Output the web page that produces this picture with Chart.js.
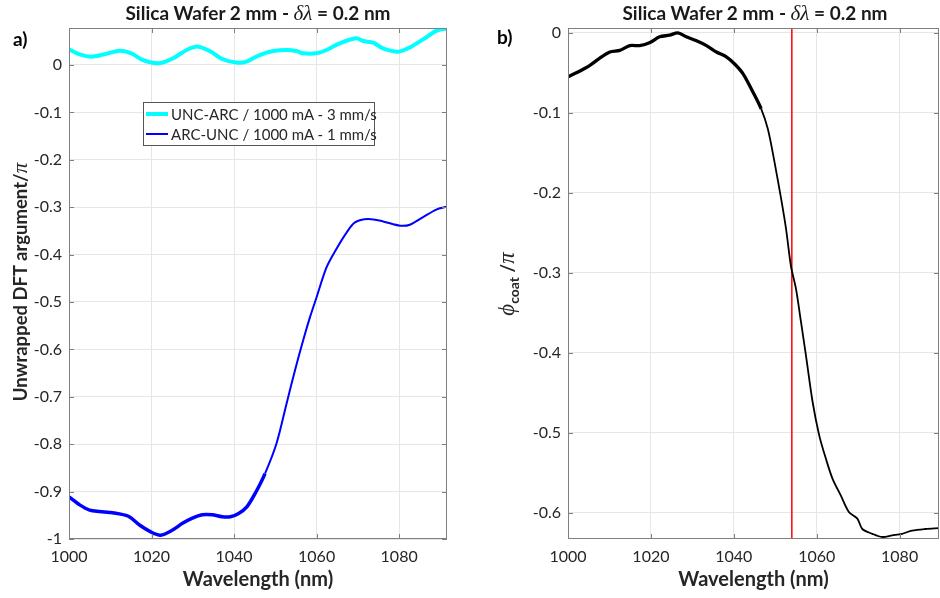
<!DOCTYPE html>
<html>
<head>
<meta charset="utf-8">
<script src="https://cdn.jsdelivr.net/npm/chart.js@4.4.1/dist/chart.umd.min.js"></script>
<style>
    body { margin: 0; background: #fff; }
    #wrap { position: relative; width: 940px; height: 598px; overflow: hidden; font-family: Lato, sans-serif; color: #262626; }
    canvas { position: absolute; top: 0; }
    .title { position: absolute; top: 1px; width: 400px; text-align: center; font-weight: bold; font-size: 19px; line-height: 24px; color: #1a1a1a; }
    .tex { font-family: "Liberation Serif", serif; font-style: italic; font-weight: normal; font-size: 21px; }
    .panel { position: absolute; font-weight: bold; font-size: 19px; color: #000; }
    .ylab { position: absolute; width: 320px; height: 26px; line-height: 26px; text-align: center; transform: rotate(-90deg); font-weight: bold; font-size: 18.5px; color: #262626; white-space: nowrap; }
    #legend { position: absolute; left: 143px; top: 102px; width: 230px; height: 42px; border: 1px solid #555; background: #fff; font-size: 15px; }
    #legend .row { position: absolute; left: 0; height: 20px; line-height: 20px; white-space: nowrap; }
    #legend .swatch { position: absolute; left: 2px; top: 9px; width: 22px; }
    #legend .txt { position: absolute; left: 27px; top: 0; }
</style>
</head>
<body>
<div id="wrap">
    <canvas id="chartA" width="470" height="598" style="left:0"></canvas>
    <canvas id="chartB" width="470" height="598" style="left:470px"></canvas>
    <div class="title" style="left:58px">Silica Wafer 2 mm - <span class="tex">δλ</span> = 0.2 nm</div>
    <div class="title" style="left:555px">Silica Wafer 2 mm - <span class="tex">δλ</span> = 0.2 nm</div>
    <div class="panel" style="left:13px; top:27px">a)</div>
    <div class="panel" style="left:497px; top:25px">b)</div>
    <div class="ylab" style="left:-140px; top:269px">Unwrapped DFT argument/<span class="tex">π</span></div>
    <div class="ylab" style="left:347px; top:271px"><span class="tex" style="font-size:23px">ϕ</span><sub style="font-size:14px; font-weight:bold">coat</sub> /<span class="tex" style="font-size:23px">π</span></div>
    <div id="legend"></div>
</div>
<script>
// panel a) UNC-ARC (cyan)
const waveUnc = [1000, 1002.6, 1005.4, 1008.2, 1012.3, 1015.1, 1017.9, 1021.8, 1025.2, 1028.5, 1031.3, 1034.1,
    1037.3, 1040.6, 1043, 1046.2, 1049.5, 1052.7, 1055.1, 1056.7, 1059.9, 1062.4, 1065.6, 1069.6, 1071.3,
    1073.7, 1076.1, 1079.8, 1082.6, 1085.8, 1089, 1091.5];
const argUnc = [0.033, 0.0225, 0.0176, 0.0218, 0.030, 0.0246, 0.0105, 0.0035, 0.014, 0.0316, 0.0387, 0.0295,
    0.012, 0.005, 0.007, 0.021, 0.0295, 0.0316, 0.0295, 0.0246, 0.0246, 0.0316, 0.0457, 0.0563, 0.0506,
    0.047, 0.035, 0.028, 0.037, 0.054, 0.072, 0.077];

// panel a) ARC-UNC (blue)
const waveArc = [1000, 1002.6, 1005, 1007.4, 1009.8, 1012.2, 1014.6, 1017, 1019.8, 1022.2, 1025.1, 1027.5,
    1029.9, 1032.3, 1034.7, 1037.1, 1039.1, 1041.1, 1043.1, 1045.1, 1047.5, 1050.3, 1052.7, 1054.8, 1056.8,
    1058.4, 1060, 1062.4, 1064.8, 1067.3, 1069.3, 1072.5, 1076.1, 1080.2, 1082.6, 1085.8, 1089, 1091.5];
const argArc = [-0.911, -0.928, -0.939, -0.942, -0.944, -0.947, -0.953, -0.97, -0.985, -0.992, -0.981, -0.967,
    -0.956, -0.949, -0.949, -0.953, -0.953, -0.946, -0.932, -0.904, -0.862, -0.798, -0.715, -0.643, -0.579,
    -0.532, -0.49, -0.427, -0.388, -0.353, -0.332, -0.325, -0.33, -0.339, -0.337, -0.321, -0.305, -0.299];

// panel b) coating phase (black)
const waveCoat = [1000, 1002.4, 1005.2, 1007.6, 1010.1, 1012.5, 1014.9, 1017.3, 1019.8, 1022.1, 1024.5, 1026.5,
    1028.5, 1031, 1033.4, 1035.8, 1038.2, 1040.2, 1042.2, 1044.2, 1046.6, 1048.2, 1049.8, 1051.4, 1052.6,
    1053.8, 1055, 1056.2, 1057.4, 1059, 1060.6, 1062.2, 1063.8, 1065.8, 1067.8, 1069.8, 1071, 1073.4,
    1075.8, 1078.2, 1080.6, 1083, 1086.2, 1089.5];
const phiCoat = [-0.055, -0.049, -0.041, -0.032, -0.024, -0.022, -0.016, -0.016, -0.012, -0.005, -0.003, 0.0,
    -0.005, -0.01, -0.016, -0.024, -0.03, -0.039, -0.051, -0.07, -0.095, -0.12, -0.161, -0.207, -0.245,
    -0.292, -0.32, -0.361, -0.403, -0.461, -0.503, -0.532, -0.557, -0.578, -0.599, -0.607, -0.62, -0.626,
    -0.63, -0.628, -0.626, -0.622, -0.62, -0.619];

const markerWave = 1054;

const limitsA = { xMin: 1000, xMax: 1091.6, yMin: -1, yMax: 0.078 };
const limitsB = { xMin: 1000, xMax: 1089.5, yMin: -0.6325, yMax: 0.006 };

const FONT = "Lato";
const TEXT = "#262626";

const pts = (xs, ys) => xs.map((x, i) => ({ x, y: ys[i] }));

// MATLAB-style box with inward ticks
const boxPlugin = {
    id: "box",
    afterDraw(chart) {
        const { ctx, chartArea: a, scales } = chart;
        ctx.save();
        ctx.strokeStyle = "#7f7f7f";
        ctx.lineWidth = 1;
        ctx.strokeRect(a.left + 0.5, a.top + 0.5, a.right - a.left - 1, a.bottom - a.top - 1);
        ctx.beginPath();
        for (const t of scales.x.ticks) {
            const px = Math.round(scales.x.getPixelForValue(t.value)) + 0.5;
            ctx.moveTo(px, a.bottom); ctx.lineTo(px, a.bottom - 5);
            ctx.moveTo(px, a.top); ctx.lineTo(px, a.top + 5);
        }
        for (const t of scales.y.ticks) {
            const py = Math.round(scales.y.getPixelForValue(t.value)) + 0.5;
            ctx.moveTo(a.left, py); ctx.lineTo(a.left + 5, py);
            ctx.moveTo(a.right, py); ctx.lineTo(a.right - 5, py);
        }
        ctx.stroke();
        ctx.restore();
    },
};

function lineSet(label, data, color, width, thickBelow) {
    return {
        label,
        data,
        showLine: true,
        borderColor: color,
        backgroundColor: color,
        borderWidth: width,
        pointRadius: 0,
        tension: 0.3,
        segment: thickBelow
            ? { borderWidth: (c) => (c.p0.parsed.x < thickBelow ? width + 1.5 : width) }
            : undefined,
    };
}

function makeChart(id, datasets, lim, yWidth, padRight) {
    return new Chart(document.getElementById(id), {
        type: "scatter",
        data: { datasets },
        plugins: [boxPlugin],
        options: {
            responsive: false,
            animation: false,
            layout: { padding: { top: 28, right: padRight, left: 0, bottom: 0 } },
            plugins: { legend: { display: false }, tooltip: { enabled: false } },
            scales: {
                x: {
                    type: "linear",
                    min: lim.xMin,
                    max: lim.xMax,
                    afterFit: (s) => { s.height = 59; },
                    grid: { color: "#e6e6e6", drawTicks: false },
                    border: { display: false },
                    ticks: {
                        stepSize: 20,
                        includeBounds: false,
                        padding: 8,
                        color: TEXT,
                        font: { family: FONT, size: 16 },
                        callback: (v) => String(v),
                    },
                    title: {
                        display: true,
                        text: "Wavelength (nm)",
                        color: TEXT,
                        font: { family: FONT, size: 20, weight: "bold" },
                        padding: { top: 0, bottom: 6 },
                    },
                },
                y: {
                    type: "linear",
                    min: lim.yMin,
                    max: lim.yMax,
                    afterFit: (s) => { s.width = yWidth; },
                    grid: { color: "#e6e6e6", drawTicks: false },
                    border: { display: false },
                    ticks: {
                        stepSize: 0.1,
                        includeBounds: false,
                        padding: 7,
                        color: TEXT,
                        font: { family: FONT, size: 16 },
                        callback: (v) => String(Math.round(v * 10) / 10),
                    },
                },
            },
        },
    });
}

const setsA = [
    lineSet("UNC-ARC / 1000 mA - 3 mm/s", pts(waveUnc, argUnc), "#00ffff", 4),
    lineSet("ARC-UNC / 1000 mA - 1 mm/s", pts(waveArc, argArc), "#0000ff", 2, 1046),
];
makeChart("chartA", setsA, limitsA, 69, 23);

const setsB = [
    lineSet("coat", pts(waveCoat, phiCoat), "#000000", 1.8, 1046),
    {
        label: "marker",
        data: [{ x: markerWave, y: limitsB.yMin }, { x: markerWave, y: limitsB.yMax }],
        showLine: true,
        borderColor: "#ff0000",
        borderWidth: 1.5,
        pointRadius: 0,
    },
];
makeChart("chartB", setsB, limitsB, 98, 1);

// legend for panel a)
const legend = document.getElementById("legend");
setsA.forEach((d, i) => {
    const row = document.createElement("div");
    row.className = "row";
    row.style.top = (1 + i * 20) + "px";
    const sw = document.createElement("div");
    sw.className = "swatch";
    sw.style.borderTop = `${d.borderWidth}px solid ${d.borderColor}`;
    sw.style.top = (10 - d.borderWidth / 2) + "px";
    const txt = document.createElement("div");
    txt.className = "txt";
    txt.textContent = d.label;
    row.appendChild(sw);
    row.appendChild(txt);
    legend.appendChild(row);
});
</script>
</body>
</html>
